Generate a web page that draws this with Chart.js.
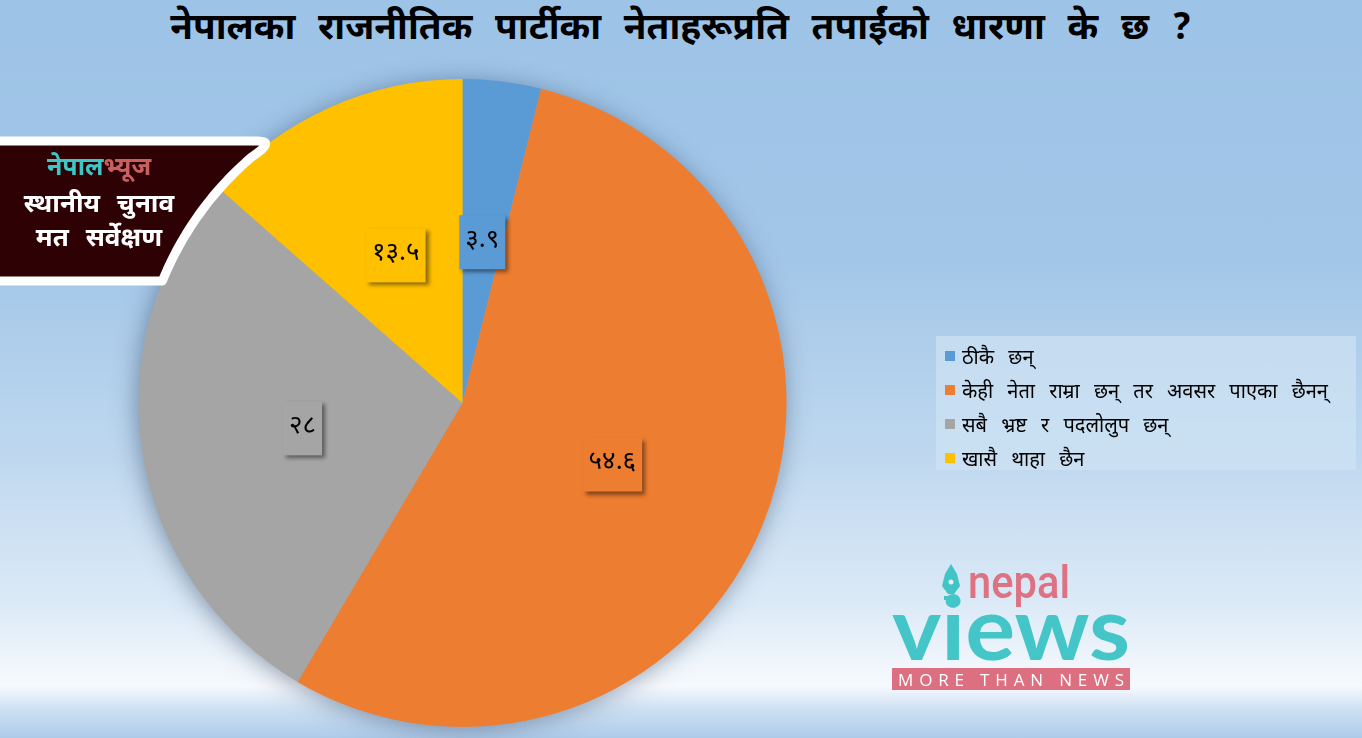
<!DOCTYPE html>
<html>
<head>
<meta charset="utf-8">
<script src="https://cdn.jsdelivr.net/npm/chart.js@4.4.1/dist/chart.umd.min.js"></script>
<style>
  html,body{margin:0;padding:0;width:1362px;height:738px;overflow:hidden;}
  body{
    background:linear-gradient(to bottom,#9DC3E6 0%,#A2C6E8 35%,#BFD8EF 62%,#DCEAF7 82%,#F2F7FC 91%,#F6F9FD 93%,#CFE1F3 96%,#AECBEA 100%);
    font-family:"Noto Sans Devanagari","Lohit Devanagari","Noto Sans","DejaVu Sans",sans-serif;
    position:relative;
  }
  #c{position:absolute;left:0;top:0;}
  #title{position:absolute;left:0;width:1362px;top:6px;text-align:center;font-size:37px;font-weight:bold;color:#000;word-spacing:13px;white-space:nowrap;}
  #legend{position:absolute;left:936px;top:336px;width:420px;height:134px;background:rgba(205,225,243,0.75);box-sizing:border-box;padding-top:6px;}
  .li{height:34px;display:flex;align-items:center;font-size:20px;color:#000;padding-left:9px;white-space:nowrap;word-spacing:9px;}
  .sw{width:10px;height:10px;margin-right:7px;margin-top:-6px;flex:none;}
  .bt{position:absolute;left:0;width:198px;text-align:center;font-weight:bold;white-space:nowrap;}
  #logo{position:absolute;left:892px;top:556px;width:240px;height:136px;}
</style>
</head>
<body>
<div id="title">नेपालका राजनीतिक पार्टीका नेताहरूप्रति तपाईंको धारणा के छ ?</div>
<canvas id="c" width="1362" height="738"></canvas>
<div class="bt" style="top:153px;font-size:25px;"><span style="color:#3CC6C6">नेपाल</span><span style="color:#C86060">भ्यूज</span></div>
<div class="bt" style="top:189px;font-size:26px;color:#fff;word-spacing:10px;">स्थानीय चुनाव</div>
<div class="bt" style="top:223px;font-size:26px;color:#fff;word-spacing:10px;">मत सर्वेक्षण</div>
<div id="legend"></div>
<div id="logo">
  <svg width="240" height="136" style="position:absolute;left:0;top:0">
    <path d="M59 8 L65 18 L68 30 L62 38 L56 38 L50 30 L53 18 Z" fill="#40C4C6"/>
    <rect x="52" y="40" width="14" height="4" fill="#40C4C6"/>
    <circle cx="59" cy="26" r="2.5" fill="#E6F0F8"/>
    <text x="76" y="42" font-family="Roboto, Lato, sans-serif" font-size="46" fill="#DE7283" font-weight="500" textLength="102" lengthAdjust="spacingAndGlyphs">nepal</text>
    <text x="0" y="104" font-family="Lato, Roboto, sans-serif" font-size="88" font-weight="bold" fill="#44C6C8" textLength="238" lengthAdjust="spacingAndGlyphs">views</text>
    <rect x="0" y="112" width="238" height="22" fill="#DC6F80"/>
    <text x="6" y="130" font-family="Open Sans, Lato, sans-serif" font-size="17" fill="#fff" textLength="226" lengthAdjust="spacing">MORE THAN NEWS</text>
  </svg>
</div>
<script>
const categories = ["ठीकै छन्", "केही नेता राम्रा छन् तर अवसर पाएका छैनन्", "सबै भ्रष्ट र पदलोलुप छन्", "खासै थाहा छैन"];
const values = [3.9, 54.6, 28, 13.5];
const colors = ["#5B9BD5", "#ED7D31", "#A5A5A5", "#FFC000"];

const devDigits = "०१२३४५६७८९";
function toDev(v){ return String(v).replace(/[0-9]/g, d => devDigits[+d]); }

// legend
const lg = document.getElementById('legend');
categories.forEach((c,i)=>{
  const d=document.createElement('div'); d.className='li';
  d.innerHTML='<span class="sw" style="background:'+colors[i]+'"></span><span>'+c+'</span>';
  lg.appendChild(d);
});

const FONT = '"Noto Sans Devanagari","Lohit Devanagari","Noto Sans","DejaVu Sans",sans-serif';

const shadowPlugin = {
  id:'pieShadow',
  beforeDatasetsDraw(chart){
    const arc = chart.getDatasetMeta(0).data[0];
    const ctx = chart.ctx;
    ctx.save();
    ctx.shadowColor='rgba(40,60,90,0.5)';
    ctx.shadowBlur=24;
    ctx.shadowOffsetX=-2;
    ctx.shadowOffsetY=3;
    ctx.fillStyle='#A5A5A5';
    ctx.beginPath(); ctx.arc(arc.x,arc.y,arc.outerRadius-1,0,Math.PI*2); ctx.fill();
    ctx.restore();
  }
};

const labelPlugin = {
  id:'boxLabels',
  afterDatasetsDraw(chart){
    const ctx = chart.ctx;
    const meta = chart.getDatasetMeta(0);
    meta.data.forEach((arc,i)=>{
      const mid = (arc.startAngle+arc.endAngle)/2;
      const r = arc.outerRadius*0.5;
      const x = arc.x + Math.cos(mid)*r;
      const y = arc.y + Math.sin(mid)*r;
      const txt = toDev(values[i]);
      ctx.save();
      ctx.font = '26px '+FONT;
      const w = ctx.measureText(txt).width + 12;
      const h = 54;
      ctx.shadowColor='rgba(0,0,0,0.45)';
      ctx.shadowBlur=4; ctx.shadowOffsetX=3; ctx.shadowOffsetY=3;
      ctx.fillStyle=colors[i];
      ctx.fillRect(x-w/2,y-h/2,w,h);
      ctx.restore();
      ctx.save();
      ctx.font = '26px '+FONT;
      ctx.fillStyle='#000'; ctx.textAlign='center'; ctx.textBaseline='middle';
      ctx.fillText(txt,x,y);
      ctx.restore();
    });
    // badge
    const a = meta.data[0];
    const cx=a.x, cy=a.y, R=a.outerRadius;
    const top=141, bot=281;
    const xAt = yy => cx - Math.sqrt(R*R-(yy-cy)*(yy-cy));
    ctx.save();
    ctx.beginPath();
    ctx.moveTo(-20,top);
    const xt = xAt(top);
    ctx.lineTo(xt-14,top);
    ctx.quadraticCurveTo(xt+4,top,xAt(top+16),top+16);
    for(let yy=top+16; yy<=bot; yy+=2){ ctx.lineTo(xAt(yy),yy); }
    ctx.lineTo(-20,bot);
    ctx.closePath();
    ctx.fillStyle='#2E0204';
    ctx.fill();
    ctx.lineWidth=9; ctx.strokeStyle='#fff'; ctx.lineJoin='round';
    ctx.stroke();
    ctx.restore();
  }
};

new Chart(document.getElementById('c'),{
  type:'pie',
  data:{labels:categories,datasets:[{data:values,backgroundColor:colors,borderWidth:0,hoverOffset:0}]},
  options:{
    responsive:false,animation:false,
    layout:{padding:{left:138,right:575,top:79,bottom:11}},
    plugins:{legend:{display:false},tooltip:{enabled:false},title:{display:false}}
  },
  plugins:[shadowPlugin,labelPlugin]
});
</script>
</body>
</html>
